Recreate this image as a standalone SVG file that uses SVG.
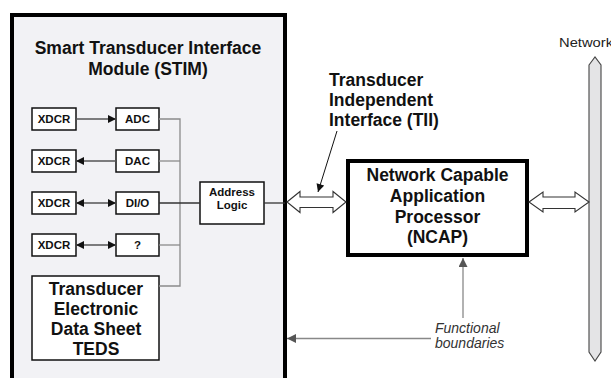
<svg xmlns="http://www.w3.org/2000/svg" width="611" height="378" viewBox="0 0 611 378">
<style>
.b{font-family:"Liberation Sans",Arial,sans-serif;font-weight:bold;fill:#111;text-anchor:middle}
.l{text-anchor:start}
.big{font-size:17.5px}
.sm{font-size:11.5px}
.box{fill:#fff;stroke:#111;stroke-width:1.5}
.bus{fill:none;stroke:#8a8a8a;stroke-width:1.3}
.ar{fill:none;stroke:#555;stroke-width:1.3}
.hollow{fill:#fff;stroke:#333;stroke-width:1.1}
.it{font-family:"Liberation Sans",Arial,sans-serif;font-style:italic;font-size:14px;fill:#333}
</style>
<defs>
<marker id="ah" viewBox="0 0 10 10" refX="10" refY="5" markerWidth="10" markerHeight="8" markerUnits="userSpaceOnUse" orient="auto-start-reverse">
<path d="M0,0 L10,5 L0,10 Z" fill="#111"/>
</marker>
<marker id="ag" viewBox="0 0 10 10" refX="10" refY="5" markerWidth="12" markerHeight="9" markerUnits="userSpaceOnUse" orient="auto">
<path d="M0,0 L10,5 L0,10 Z" fill="#555"/>
</marker>
</defs>
<rect width="611" height="378" fill="#fff"/>
<g id="stim">
<rect x="12" y="15" width="273" height="375" fill="#f2f2f5" stroke="#000" stroke-width="4"/>
<text class="b big" x="148" y="54">Smart Transducer Interface</text>
<text class="b big" x="148" y="75">Module (STIM)</text>
</g>
<g id="xdcr1"><rect class="box" x="32" y="108" width="44" height="22"/><text class="b sm" x="54" y="123">XDCR</text></g>
<g id="xdcr2"><rect class="box" x="32" y="150" width="44" height="22"/><text class="b sm" x="54" y="165">XDCR</text></g>
<g id="xdcr3"><rect class="box" x="32" y="192" width="44" height="22"/><text class="b sm" x="54" y="207">XDCR</text></g>
<g id="xdcr4"><rect class="box" x="32" y="234" width="44" height="22"/><text class="b sm" x="54" y="249">XDCR</text></g>
<g id="adc"><rect class="box" x="116" y="108" width="43" height="22"/><text class="b sm" x="137.5" y="123">ADC</text></g>
<g id="dac"><rect class="box" x="116" y="150" width="43" height="22"/><text class="b sm" x="137.5" y="165">DAC</text></g>
<g id="dio"><rect class="box" x="116" y="192" width="43" height="22"/><text class="b sm" x="137.5" y="207">DI/O</text></g>
<g id="unknown"><rect class="box" x="116" y="234" width="43" height="22"/><text class="b sm" x="137.5" y="249">?</text></g>
<g id="teds"><rect class="box" x="32" y="276" width="127" height="84"/>
<text class="b big" x="96" y="295">Transducer</text>
<text class="b big" x="96" y="315">Electronic</text>
<text class="b big" x="96" y="335">Data Sheet</text>
<text class="b big" x="96" y="355">TEDS</text></g>
<g id="address-logic"><rect class="box" x="200" y="182" width="64" height="42"/>
<text class="b sm" x="232" y="196">Address</text>
<text class="b sm" x="232" y="209">Logic</text></g>
<g id="ncap"><rect x="348" y="161" width="179" height="94" fill="#fff" stroke="#000" stroke-width="4"/>
<text class="b big" x="437.5" y="181">Network Capable</text>
<text class="b big" x="437.5" y="202">Application</text>
<text class="b big" x="437.5" y="223">Processor</text>
<text class="b big" x="437.5" y="243">(NCAP)</text></g>
<g id="network">
<path d="M589,65 L595,57 L601,65 L601,352 L595,361 L589,352 Z" fill="#e4e4e6" stroke="#444" stroke-width="1.1"/>
<text x="559" y="47" font-family="'Liberation Sans',Arial,sans-serif" font-size="12.5" fill="#222" textLength="54" lengthAdjust="spacingAndGlyphs">Network</text>
</g>
<g id="tii-label">
<text class="b big l" x="329" y="86">Transducer</text>
<text class="b big l" x="329" y="106">Independent</text>
<text class="b big l" x="329" y="126">Interface (TII)</text>
</g>
<g id="functional-label">
<text class="it" x="435" y="333">Functional</text>
<text class="it" x="435" y="348">boundaries</text>
</g>
<g id="connectors">
<line class="ar" x1="76" y1="119" x2="116" y2="119" marker-end="url(#ah)"/>
<line class="ar" x1="116" y1="161" x2="76" y2="161" marker-end="url(#ah)"/>
<line class="ar" x1="76" y1="203" x2="116" y2="203" marker-start="url(#ah)" marker-end="url(#ah)"/>
<line class="ar" x1="76" y1="245" x2="116" y2="245" marker-start="url(#ah)" marker-end="url(#ah)"/>
<polyline class="bus" points="159,119 180,119 180,286 159,286"/>
<line class="bus" x1="159" y1="161" x2="180" y2="161"/>
<line class="bus" x1="159" y1="245" x2="180" y2="245"/>
<line x1="159" y1="203" x2="200" y2="203" stroke="#333" stroke-width="1.3"/>
<line x1="264" y1="203" x2="285" y2="203" stroke="#333" stroke-width="1.3"/>
<path class="hollow" d="M287,202 L300,191.5 L300,197 L333,197 L333,191.5 L346,202 L333,212.5 L333,207.5 L300,207.5 L300,212.5 Z"/>
<path class="hollow" d="M529,202 L543,192 L543,197 L575,197 L575,192 L589,202 L575,212 L575,208.5 L543,208.5 L543,212 Z"/>
<line x1="337" y1="131" x2="318" y2="192" stroke="#111" stroke-width="1" marker-end="url(#ah)"/>
<line x1="463" y1="318" x2="463" y2="258" stroke="#999" stroke-width="1.5" marker-end="url(#ag)"/>
<line x1="431" y1="338.5" x2="287" y2="338.5" stroke="#888" stroke-width="1.3" marker-end="url(#ag)"/>
</g>
</svg>
